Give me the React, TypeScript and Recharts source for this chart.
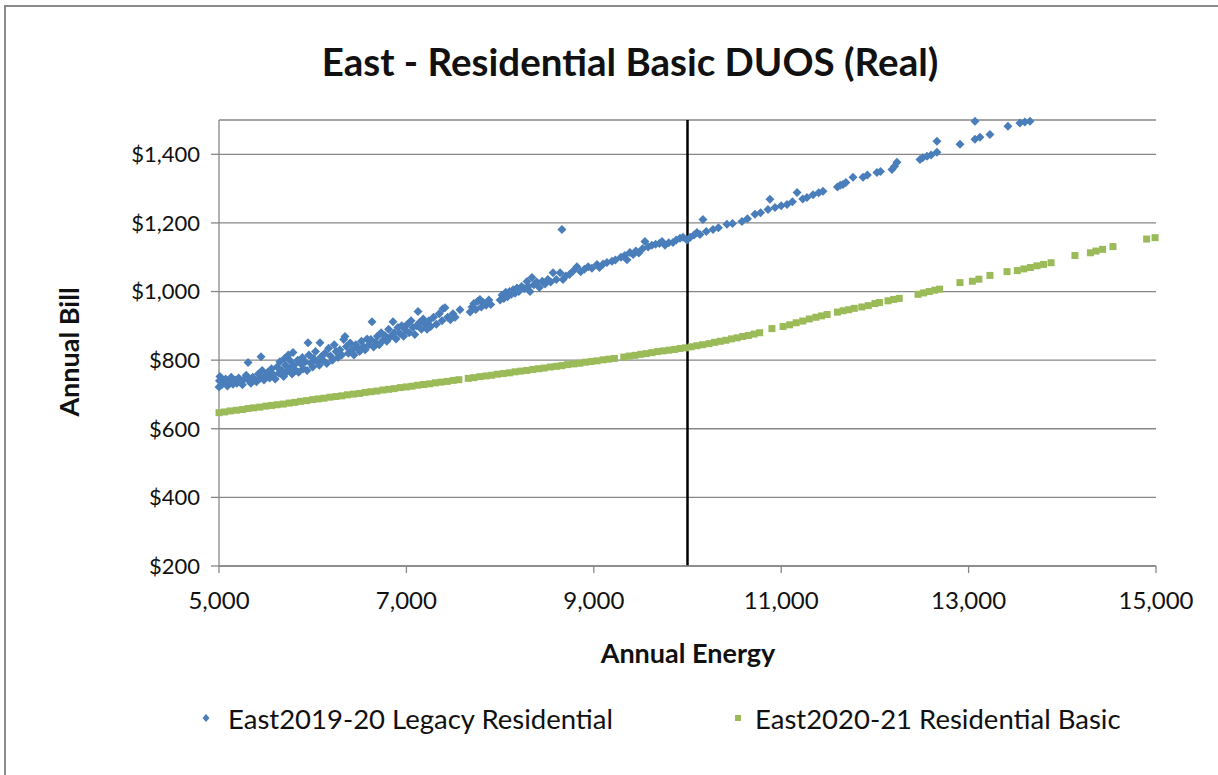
import React from 'react';
import { ScatterChart, Scatter, XAxis, YAxis, CartesianGrid, ReferenceLine } from 'recharts';

const TITLE = 'East - Residential Basic DUOS (Real)';
const X_TITLE = 'Annual Energy';
const Y_TITLE = 'Annual Bill';
const LEGACY_NAME = 'East2019-20 Legacy Residential';
const BASIC_NAME = 'East2020-21 Residential Basic';

const X_TICKS = [5000, 7000, 9000, 11000, 13000, 15000];
const Y_TICKS = [200, 400, 600, 800, 1000, 1200, 1400];
const X_DOMAIN = [5000, 15000];
const Y_DOMAIN = [200, 1500];
const THRESHOLD_ENERGY = 10000;

// [annual energy, annual bill]
const legacyPoints: [number, number][] = [
  [5000, 722], [5005, 740], [5010, 752], [5030, 728], [5050, 735], [5070, 745], [5090, 725], [5110, 738],
  [5130, 750], [5150, 730], [5170, 742], [5190, 733], [5210, 748], [5230, 737], [5250, 728], [5270, 745],
  [5290, 756], [5310, 793], [5320, 740], [5340, 733], [5360, 750], [5380, 742], [5400, 737], [5420, 760],
  [5440, 748], [5448, 810], [5460, 770], [5480, 742], [5500, 755], [5520, 765], [5540, 748], [5560, 775],
  [5580, 758], [5600, 745], [5620, 780], [5640, 762], [5650, 795], [5670, 770], [5690, 752], [5700, 805],
  [5710, 785], [5720, 765], [5740, 815], [5750, 775], [5760, 798], [5780, 760], [5790, 822], [5800, 785],
  [5820, 770], [5840, 800], [5850, 765], [5870, 790], [5890, 808], [5900, 775], [5920, 795], [5940, 770],
  [5950, 851], [5960, 815], [5980, 790], [6000, 780], [6010, 805], [6030, 825], [6050, 795], [6070, 785],
  [6078, 851], [6090, 810], [6110, 800], [6130, 820], [6150, 790], [6170, 835], [6190, 812], [6210, 800],
  [6230, 845], [6250, 825], [6270, 808], [6290, 830], [6310, 815], [6330, 860], [6345, 869], [6360, 840],
  [6380, 820], [6400, 850], [6420, 830], [6440, 815], [6460, 845], [6480, 835], [6500, 825], [6520, 855],
  [6540, 840], [6560, 830], [6580, 862], [6600, 845], [6620, 860], [6633, 912], [6650, 838], [6670, 852],
  [6690, 870], [6710, 845], [6730, 880], [6750, 858], [6770, 872], [6790, 855], [6810, 890], [6830, 868],
  [6857, 912], [6870, 880], [6890, 862], [6910, 895], [6930, 878], [6950, 900], [6970, 870], [6990, 888],
  [7010, 905], [7030, 880], [7050, 915], [7070, 895], [7090, 875], [7110, 900], [7124, 942], [7140, 910],
  [7160, 890], [7180, 920], [7200, 905], [7220, 890], [7240, 915], [7260, 898], [7290, 925], [7320, 905],
  [7350, 935], [7390, 950], [7380, 915], [7412, 953], [7440, 925], [7470, 918], [7497, 935], [7520, 925],
  [7572, 947], [7680, 940], [7700, 955], [7720, 965], [7740, 948], [7760, 972], [7785, 977], [7800, 955],
  [7820, 968], [7850, 960], [7880, 975], [7900, 962], [8000, 975], [8020, 990], [8040, 980], [8060, 998],
  [8080, 985], [8100, 1000], [8120, 992], [8140, 1005], [8160, 995], [8180, 1010], [8200, 1000], [8230, 1015],
  [8260, 1008], [8287, 1029], [8300, 1015], [8319, 1000], [8340, 1041], [8360, 1020], [8390, 1028], [8420, 1012],
  [8450, 1030], [8480, 1022], [8510, 1035], [8540, 1028], [8565, 1055], [8600, 1035], [8640, 1055], [8660, 1181],
  [8671, 1035], [8700, 1045], [8740, 1050], [8780, 1060], [8820, 1072], [8860, 1058], [8900, 1065], [8940, 1072],
  [8980, 1068], [9034, 1079], [9060, 1070], [9100, 1080], [9140, 1085], [9194, 1088], [9230, 1092], [9290, 1100],
  [9330, 1105], [9354, 1093], [9386, 1114], [9420, 1108], [9450, 1118], [9480, 1112], [9520, 1125], [9546, 1146],
  [9580, 1130], [9620, 1135], [9660, 1138], [9700, 1140], [9728, 1146], [9760, 1135], [9800, 1142], [9845, 1143],
  [9880, 1150], [9920, 1155], [9952, 1158], [9994, 1150], [10030, 1158], [10070, 1165], [10101, 1172], [10133, 1166],
  [10165, 1210], [10200, 1175], [10272, 1181], [10330, 1186], [10421, 1196], [10480, 1198], [10581, 1204], [10640, 1212],
  [10720, 1225], [10780, 1230], [10859, 1239], [10880, 1269], [10934, 1245], [11000, 1250], [11062, 1254], [11120, 1262],
  [11169, 1289], [11230, 1270], [11275, 1274], [11340, 1282], [11400, 1288], [11446, 1292], [11600, 1305], [11630, 1310],
  [11659, 1312], [11690, 1318], [11766, 1333], [11873, 1333], [11920, 1340], [12022, 1347], [12060, 1350], [12182, 1356],
  [12210, 1365], [12235, 1377], [12481, 1385], [12510, 1390], [12556, 1394], [12600, 1398], [12662, 1406], [12662, 1438],
  [12908, 1429], [13068, 1444], [13121, 1450], [13068, 1496], [13228, 1458], [13420, 1482], [13548, 1491], [13600, 1494],
  [13655, 1496],
];

const basicPoints: [number, number][] = [
  [5000, 647], [5060, 649], [5120, 652], [5185, 654], [5250, 656], [5310, 659], [5370, 661], [5435, 663],
  [5500, 666], [5560, 668], [5620, 670], [5685, 672], [5750, 675], [5810, 677], [5870, 680], [5935, 682],
  [6000, 685], [6060, 687], [6120, 689], [6185, 692], [6250, 694], [6310, 696], [6370, 699], [6435, 701],
  [6500, 703], [6560, 706], [6620, 708], [6685, 710], [6750, 713], [6810, 715], [6870, 717], [6935, 720],
  [7000, 722], [7060, 724], [7120, 727], [7185, 729], [7250, 731], [7310, 734], [7370, 736], [7435, 738],
  [7500, 741], [7560, 743], [7660, 747], [7720, 749], [7785, 752], [7850, 754], [7910, 756], [7970, 759],
  [8035, 761], [8100, 763], [8160, 766], [8220, 768], [8285, 770], [8350, 773], [8410, 775], [8470, 777],
  [8535, 780], [8600, 782], [8660, 784], [8720, 787], [8785, 789], [8850, 791], [8910, 794], [8970, 796],
  [9035, 798], [9100, 801], [9160, 803], [9220, 805], [9320, 809], [9380, 812], [9440, 814], [9500, 817],
  [9560, 819], [9620, 822], [9680, 825], [9740, 827], [9800, 829], [9860, 831], [9920, 834], [9980, 836],
  [10040, 839], [10100, 842], [10160, 845], [10230, 848], [10290, 852], [10350, 855], [10410, 858], [10470, 862],
  [10530, 865], [10590, 869], [10650, 872], [10710, 876], [10770, 880], [10901, 892], [11020, 898], [11090, 903],
  [11160, 909], [11230, 914], [11300, 920], [11370, 925], [11430, 929], [11490, 933], [11600, 940], [11660, 944],
  [11720, 947], [11780, 951], [11860, 955], [11930, 959], [12000, 965], [12050, 968], [12140, 973], [12200, 977],
  [12260, 980], [12460, 992], [12520, 996], [12580, 1000], [12640, 1004], [12690, 1007], [12908, 1026], [13040, 1030],
  [13110, 1036], [13228, 1047], [13410, 1058], [13520, 1061], [13590, 1066], [13660, 1070], [13730, 1075], [13800, 1079],
  [13880, 1084], [14135, 1105], [14300, 1113], [14360, 1118], [14430, 1123], [14541, 1131], [14900, 1153], [14990, 1157],
];

const legacyData = legacyPoints.map(([energy, bill]) => ({ energy, bill }));
const basicData = basicPoints.map(([energy, bill]) => ({ energy, bill }));

const BLUE = '#4A7EBB';
const GREEN = '#9BBB59';
const GRID = '#878787';
const FONT = 'Lato, "DejaVu Sans", sans-serif';
const TEXT = '#111';

const Diamond = (props: any) => {
  const { cx, cy } = props;
  if (cx == null || cy == null) return null;
  const r = 4.5;
  return <polygon points={`${cx},${cy - r} ${cx + r},${cy} ${cx},${cy + r} ${cx - r},${cy}`} fill={BLUE} />;
};

const Square = (props: any) => {
  const { cx, cy } = props;
  if (cx == null || cy == null) return null;
  return <rect x={cx - 3.5} y={cy - 3.5} width={7} height={7} fill={GREEN} />;
};

const fmtEnergy = (v: number) => v.toLocaleString('en-US');
const fmtBill = (v: number) => '$' + v.toLocaleString('en-US');

export default function App() {
  return (
    <div style={{ position: 'absolute', left: 0, top: 0, width: 1218, height: 775, overflow: 'hidden', background: '#fff', fontFamily: FONT }}>
      <div style={{ position: 'absolute', left: 4, top: 5, width: 1400, height: 1000, border: '2px solid #8a8a8a', boxSizing: 'border-box' }} />
      <div style={{ position: 'absolute', left: 0, top: 0 }}>
        <ScatterChart width={1218} height={775} margin={{ top: 120, right: 62, bottom: 149, left: 0 }}>
          <CartesianGrid vertical={false} stroke={GRID} strokeWidth={1.3} />
          <XAxis
            type="number"
            dataKey="energy"
            domain={X_DOMAIN}
            ticks={X_TICKS}
            tickFormatter={fmtEnergy}
            height={60}
            axisLine={{ stroke: GRID, strokeWidth: 1.3 }}
            tickLine={{ stroke: GRID, strokeWidth: 1.3 }}
            tickSize={7}
            tickMargin={19}
            tick={{ fontSize: 24, fill: TEXT, fontFamily: FONT }}
            interval={0}
          />
          <YAxis
            type="number"
            dataKey="bill"
            domain={Y_DOMAIN}
            ticks={Y_TICKS}
            tickFormatter={fmtBill}
            width={219}
            axisLine={{ stroke: GRID, strokeWidth: 1.3 }}
            tickLine={{ stroke: GRID, strokeWidth: 1.3 }}
            tickSize={8}
            tickMargin={11}
            tick={{ fontSize: 22, fill: TEXT, fontFamily: FONT }}
            interval={0}
          />
          <Scatter name={LEGACY_NAME} data={legacyData} shape={<Diamond />} isAnimationActive={false} />
          <Scatter name={BASIC_NAME} data={basicData} shape={<Square />} isAnimationActive={false} />
          <ReferenceLine x={THRESHOLD_ENERGY} stroke="#000" strokeWidth={2.5} />
        </ScatterChart>
      </div>
      <div style={{ position: 'absolute', left: 630, top: 61, transform: 'translate(-50%, -50%)', whiteSpace: 'nowrap', fontSize: 38.5, fontWeight: 700, color: TEXT }}>{TITLE}</div>
      <div style={{ position: 'absolute', left: 688, top: 652, transform: 'translate(-50%, -50%)', whiteSpace: 'nowrap', fontSize: 27, fontWeight: 700, color: TEXT }}>{X_TITLE}</div>
      <div style={{ position: 'absolute', left: 68, top: 352, transform: 'translate(-50%, -50%) rotate(-90deg)', whiteSpace: 'nowrap', fontSize: 27, fontWeight: 700, color: TEXT }}>{Y_TITLE}</div>
      <svg style={{ position: 'absolute', left: 0, top: 0 }} width={1218} height={775}>
        <polygon points="206,714 209.5,718 206,722 202.5,718" fill={BLUE} />
        <rect x={735} y={715} width={6} height={6} fill={GREEN} />
      </svg>
      <div style={{ position: 'absolute', left: 228, top: 718, transform: 'translateY(-50%)', whiteSpace: 'nowrap', fontSize: 27.5, color: TEXT }}>{LEGACY_NAME}</div>
      <div style={{ position: 'absolute', left: 755, top: 718, transform: 'translateY(-50%)', whiteSpace: 'nowrap', fontSize: 27.5, color: TEXT }}>{BASIC_NAME}</div>
    </div>
  );
}
